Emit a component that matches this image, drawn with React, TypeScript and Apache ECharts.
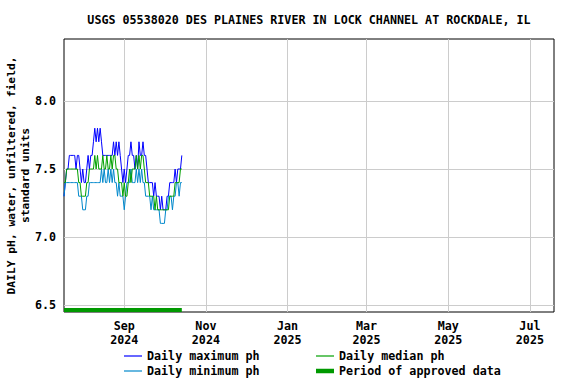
import React, { useEffect, useRef } from "react";
import * as echarts from "echarts";

const titleText = "USGS 05538020 DES PLAINES RIVER IN LOCK CHANNEL AT ROCKDALE, IL";
const yAxisName = "DAILY pH, water, unfiltered, field,\nstandard units";

// first day of data: 2024-07-18, one value per day
const startYear = 2024;
const startMonth = 6; // July (0-based)
const startDay = 18;

const maxVals = [
  7.3, 7.4, 7.5, 7.5, 7.6, 7.6, 7.6, 7.6, 7.6, 7.5,
  7.6, 7.6, 7.5, 7.4, 7.5, 7.4, 7.4, 7.5, 7.6, 7.5,
  7.6, 7.6, 7.7, 7.8, 7.7, 7.8, 7.7, 7.8, 7.7, 7.6,
  7.6, 7.6, 7.6, 7.6, 7.6, 7.6, 7.6, 7.7, 7.6, 7.7,
  7.6, 7.7, 7.6, 7.5, 7.4, 7.5, 7.4, 7.5, 7.6, 7.6,
  7.7, 7.6, 7.6, 7.5, 7.6, 7.5, 7.7, 7.6, 7.6, 7.7,
  7.6, 7.6, 7.5, 7.4, 7.4, 7.4, 7.4, 7.3, 7.4, 7.3,
  7.3, 7.3, 7.2, 7.3, 7.2, 7.2, 7.2, 7.3, 7.3, 7.4,
  7.4, 7.4, 7.4, 7.5, 7.4, 7.5, 7.5, 7.5, 7.6,
];

const minVals = [
  7.3, 7.4, 7.4, 7.4, 7.4, 7.4, 7.4, 7.4, 7.4, 7.4,
  7.4, 7.3, 7.3, 7.3, 7.2, 7.2, 7.2, 7.3, 7.3, 7.4,
  7.4, 7.4, 7.4, 7.4, 7.4, 7.4, 7.4, 7.4, 7.5, 7.4,
  7.5, 7.4, 7.4, 7.5, 7.4, 7.5, 7.4, 7.5, 7.4, 7.4,
  7.3, 7.4, 7.3, 7.3, 7.3, 7.2, 7.3, 7.4, 7.4, 7.4,
  7.5, 7.4, 7.4, 7.4, 7.5, 7.4, 7.5, 7.4, 7.5, 7.4,
  7.4, 7.3, 7.3, 7.3, 7.3, 7.2, 7.3, 7.2, 7.2, 7.2,
  7.2, 7.2, 7.1, 7.1, 7.1, 7.1, 7.2, 7.2, 7.3, 7.3,
  7.3, 7.2, 7.3, 7.3, 7.4, 7.4, 7.3, 7.4, 7.4,
];

const medVals = [
  7.4, 7.4, 7.5, 7.5, 7.5, 7.5, 7.5, 7.5, 7.5, 7.5,
  7.5, 7.4, 7.4, 7.3, 7.3, 7.3, 7.3, 7.4, 7.4, 7.5,
  7.5, 7.5, 7.5, 7.6, 7.5, 7.6, 7.5, 7.5, 7.5, 7.6,
  7.5, 7.5, 7.6, 7.5, 7.5, 7.6, 7.5, 7.6, 7.6, 7.5,
  7.5, 7.4, 7.4, 7.4, 7.3, 7.4, 7.3, 7.3, 7.4, 7.5,
  7.4, 7.5, 7.5, 7.5, 7.6, 7.5, 7.6, 7.5, 7.6, 7.6,
  7.5, 7.4, 7.4, 7.4, 7.3, 7.3, 7.3, 7.3, 7.2, 7.3,
  7.2, 7.2, 7.2, 7.2, 7.2, 7.2, 7.2, 7.2, 7.2, 7.3,
  7.3, 7.3, 7.3, 7.4, 7.4, 7.4, 7.4, 7.5, 7.5,
];

// approved-data period: [start, end] as [y, m(0-based), d]
const approvedStart = [2024, 6, 18];
const approvedEnd = [2024, 9, 14];
const approvedLevel = 6.463;

// x-axis range and ticks
const xMinDate = [2024, 6, 18];
const xMaxDate = [2025, 6, 19];
const xTickDates = [
  [2024, 8, 1],
  [2024, 10, 1],
  [2025, 0, 1],
  [2025, 2, 1],
  [2025, 4, 1],
  [2025, 6, 1],
];
const monthNames = ["Jan", "Feb", "Mar", "Apr", "May", "Jun", "Jul", "Aug", "Sep", "Oct", "Nov", "Dec"];

// y-axis range and ticks
const yMin = 6.4485;
const yMax = 8.456;
const yTicks = [6.5, 7.0, 7.5, 8.0];

const seriesNames = ["Daily maximum ph", "Daily minimum ph", "Daily median ph", "Period of approved data"];

const ts = (a: number[]) => new Date(a[0], a[1], a[2]).getTime();

export default function App() {
  const ref = useRef<HTMLDivElement>(null);
  useEffect(() => {
    if (!ref.current) return;
    const chart = echarts.init(ref.current, null, { renderer: "svg" });
    const font = "DejaVu Sans Mono";
    const dayTs = (i: number) => new Date(startYear, startMonth, startDay + i).getTime();
    const toPairs = (vals: number[]) => vals.map((v, i) => [dayTs(i), v]);
    const lineSeries = (name: string, vals: number[], color: string) => ({
      name,
      type: "line",
      data: toPairs(vals),
      showSymbol: false,
      symbol: "none",
      lineStyle: { color, width: 1 },
      itemStyle: { color },
      emphasis: { disabled: true },
    });
    const thinIcon = "path://M0,0H18V1.2H0Z";
    const thickIcon = "path://M0,0H18V4.5H0Z";
    const legendText = { fontFamily: font, fontWeight: "bold", fontSize: 11.7, color: "#000" };
    const legendBase = {
      top: 350,
      orient: "vertical",
      itemWidth: 18,
      itemHeight: 10,
      itemGap: 3,
      padding: 0,
      textStyle: legendText,
      selectedMode: false,
      symbolKeepAspect: true,
    };
    chart.setOption({
      animation: false,
      backgroundColor: "#fff",
      title: {
        text: titleText,
        left: 304,
        textAlign: "center",
        top: 9,
        textStyle: { fontFamily: font, fontWeight: "bold", fontSize: 11.7, color: "#000" },
      },
      grid: {
        left: 64,
        right: 22,
        top: 39,
        bottom: 72,
        containLabel: false,
        outerBoundsMode: "none",
        show: true,
        borderColor: "#000",
        borderWidth: 1,
        backgroundColor: "transparent",
      },
      xAxis: {
        type: "value",
        min: ts(xMinDate),
        max: ts(xMaxDate),
        axisLine: { show: false },
        axisTick: { show: false, customValues: xTickDates.map(ts) },
        splitLine: { show: true, lineStyle: { color: "#cccccc", width: 1 } },
        axisLabel: {
          customValues: xTickDates.map(ts),
          formatter: (v: number) => {
            const d = new Date(v);
            return monthNames[d.getMonth()] + "\n" + d.getFullYear();
          },
          fontFamily: font,
          fontWeight: "bold",
          fontSize: 11.7,
          color: "#000",
          lineHeight: 14,
          margin: 7,
          hideOverlap: false,
        },
      },
      yAxis: {
        type: "value",
        min: yMin,
        max: yMax,
        splitNumber: 4,
        name: yAxisName,
        nameLocation: "middle",
        nameRotate: 90,
        nameGap: 32,
        nameMoveOverlap: false,
        nameTextStyle: { fontFamily: font, fontWeight: "bold", fontSize: 11.3, color: "#000", lineHeight: 14 },
        axisLine: { show: false },
        axisTick: { show: false, customValues: yTicks },
        splitLine: { show: true, lineStyle: { color: "#cccccc", width: 1 } },
        axisLabel: {
          customValues: yTicks,
          formatter: (v: number) => v.toFixed(1),
          fontFamily: font,
          fontWeight: "bold",
          fontSize: 11.7,
          color: "#000",
          margin: 8,
        },
      },
      legend: [
        {
          ...legendBase,
          left: 124,
          data: [
            { name: seriesNames[0], icon: thinIcon },
            { name: seriesNames[1], icon: thinIcon },
          ],
        },
        {
          ...legendBase,
          left: 316,
          data: [
            { name: seriesNames[2], icon: thinIcon },
            { name: seriesNames[3], icon: thickIcon },
          ],
        },
      ],
      series: [
        lineSeries(seriesNames[0], maxVals, "#0000ff"),
        lineSeries(seriesNames[1], minVals, "#0088cc"),
        lineSeries(seriesNames[2], medVals, "#00a000"),
        {
          name: seriesNames[3],
          type: "line",
          data: [
            [ts(approvedStart), approvedLevel],
            [ts(approvedEnd), approvedLevel],
          ],
          showSymbol: false,
          symbol: "none",
          lineStyle: { color: "#009900", width: 4 },
          itemStyle: { color: "#009900" },
          emphasis: { disabled: true },
        },
      ],
    });
    return () => chart.dispose();
  }, []);
  return (
    <div
      ref={ref}
      style={{ position: "absolute", left: 0, top: 0, width: 576, height: 384 }}
    />
  );
}
